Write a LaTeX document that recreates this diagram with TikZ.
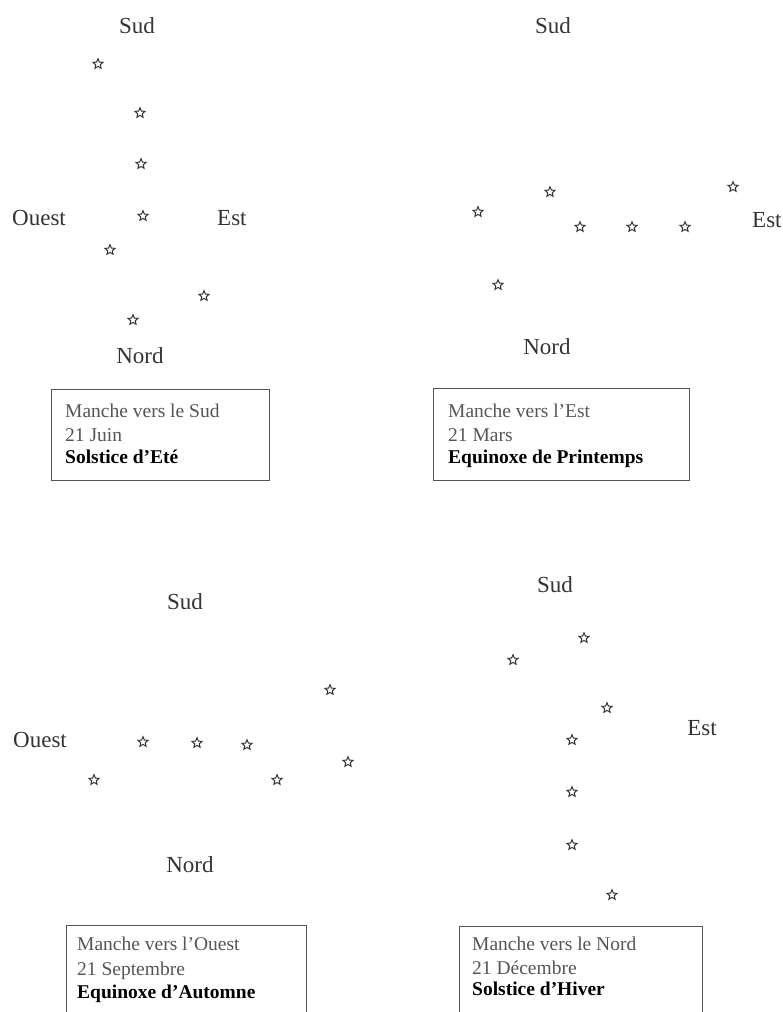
\documentclass[tikz,border=0pt]{standalone}
\usepackage{fontspec}
\setmainfont{Liberation Serif}
\usetikzlibrary{shapes.geometric}
\definecolor{ink}{HTML}{333333}
\definecolor{boxink}{HTML}{555555}
\tikzset{
  lbl/.style={text=ink, font=\fontsize{23}{26}\selectfont, inner sep=0pt},
  sky/.style={star, star points=5, star point ratio=2.2, draw=ink, line width=1pt,
    minimum size=10.5pt, inner sep=0pt},
  card/.style={draw=boxink, line width=1.3pt, anchor=north west, inner sep=0pt},
  cardtxt/.style={text=boxink, font=\fontsize{19.5}{23}\selectfont, anchor=base west, inner sep=0pt},
  cardbold/.style={text=black, font=\fontsize{19.5}{23}\selectfont\bfseries, anchor=base west, inner sep=0pt},
}
\begin{document}
\begin{tikzpicture}[x=1pt,y=-1pt]
\useasboundingbox (0,0) rectangle (782,1012);
\clip (0,0) rectangle (782,1012);

% ---------- Panel 1 : Solstice d'Ete ----------
\node[lbl] (s1) at (137,26) {Sud};
\node[lbl, anchor=west] (o1) at (12,218) {Ouest};
\node[lbl, anchor=west] (e1) at (217,218) {Est};
\node[lbl] (n1) at (140,356) {Nord};
\node[sky] (a1) at (98,64) {};
\node[sky] (a2) at (140,113) {};
\node[sky] (a3) at (141,164) {};
\node[sky] (a4) at (143,216) {};
\node[sky] (a5) at (110,250) {};
\node[sky] (a6) at (204,296) {};
\node[sky] (a7) at (133,320) {};
\node[card, minimum width=218pt, minimum height=91pt] (b1) at (51,389) {};
\node[cardtxt] (t11) at (65,417) {Manche vers le Sud};
\node[cardtxt] (t12) at (65,441) {21 Juin};
\node[cardbold] (t13) at (65,463) {Solstice d'Eté};

% ---------- Panel 2 : Equinoxe de Printemps ----------
\node[lbl] (s2) at (553,26) {Sud};
\node[lbl, anchor=west] (e2) at (752,220) {Est};
\node[lbl] (n2) at (547,347) {Nord};
\node[sky] (c1) at (478,212) {};
\node[sky] (c2) at (550,192) {};
\node[sky] (c3) at (580,227) {};
\node[sky] (c4) at (632,227) {};
\node[sky] (c5) at (685,227) {};
\node[sky] (c6) at (733,187) {};
\node[sky] (c7) at (498,285) {};
\node[card, minimum width=256pt, minimum height=92pt] (b2) at (433,388) {};
\node[cardtxt] (t21) at (448,417) {Manche vers l'Est};
\node[cardtxt] (t22) at (448,441) {21 Mars};
\node[cardbold] (t23) at (448,463) {Equinoxe de Printemps};

% ---------- Panel 3 : Equinoxe d'Automne ----------
\node[lbl] (s3) at (185,602) {Sud};
\node[lbl, anchor=west] (o3) at (13,740) {Ouest};
\node[lbl] (n3) at (190,865) {Nord};
\node[sky] (d1) at (143,742) {};
\node[sky] (d2) at (197,743) {};
\node[sky] (d3) at (247,745) {};
\node[sky] (d4) at (330,690) {};
\node[sky] (d5) at (348,762) {};
\node[sky] (d6) at (277,780) {};
\node[sky] (d7) at (94,780) {};
\node[card, minimum width=240pt, minimum height=130pt] (b3) at (66,925) {};
\node[cardtxt] (t31) at (77,950) {Manche vers l'Ouest};
\node[cardtxt] (t32) at (77,975) {21 Septembre};
\node[cardbold] (t33) at (77,998) {Equinoxe d'Automne};

% ---------- Panel 4 : Solstice d'Hiver ----------
\node[lbl] (s4) at (555,585) {Sud};
\node[lbl] (e4) at (702,728) {Est};
\node[sky] (f1) at (584,638) {};
\node[sky] (f2) at (513,660) {};
\node[sky] (f3) at (607,708) {};
\node[sky] (f4) at (572,740) {};
\node[sky] (f5) at (572,792) {};
\node[sky] (f6) at (572,845) {};
\node[sky] (f7) at (612,895) {};
\node[card, minimum width=243pt, minimum height=130pt] (b4) at (459,926) {};
\node[cardtxt] (t41) at (472,950) {Manche vers le Nord};
\node[cardtxt] (t42) at (472,974) {21 Décembre};
\node[cardbold] (t43) at (472,995) {Solstice d'Hiver};
\end{tikzpicture}
\end{document}
